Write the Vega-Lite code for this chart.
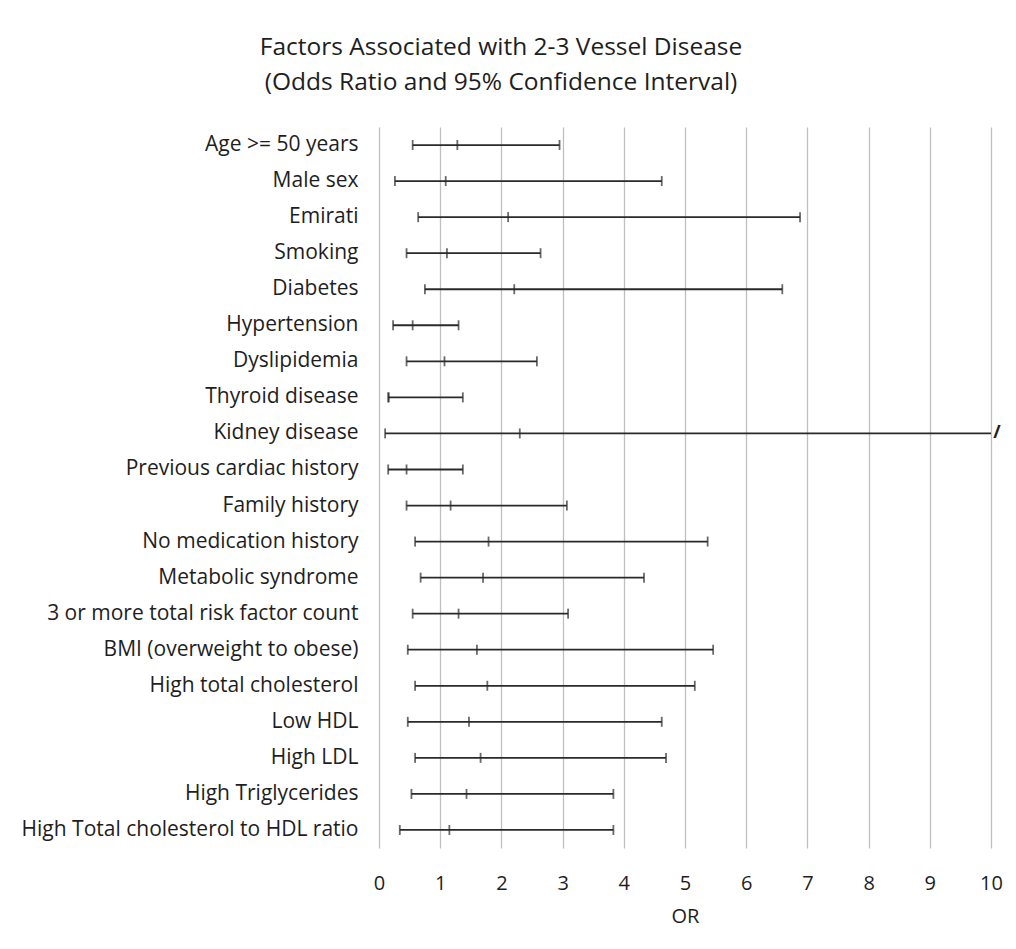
{
  "$schema": "https://vega.github.io/schema/vega-lite/v6.json",
  "autosize": {"type": "none"},
  "padding": {"left": 379, "top": 127, "right": 25, "bottom": 101},
  "width": 612,
  "height": 721,
  "background": "white",
  "title": {
    "text": ["Factors Associated with 2-3 Vessel Disease", "(Odds Ratio and 95% Confidence Interval)"],
    "anchor": "middle",
    "dx": -184,
    "offset": 32,
    "font": "Open Sans",
    "fontSize": 24.5,
    "fontWeight": "normal",
    "lineHeight": 35,
    "color": "#1e1e1e"
  },
  "config": {
    "view": {"stroke": null},
    "font": "Open Sans",
    "axisX": {
      "labelFontSize": 20,
      "titleFontSize": 20,
      "labelFont": "Open Sans",
      "titleFont": "Open Sans",
      "labelColor": "#1e1e1e",
      "titleColor": "#1e1e1e",
      "titleFontWeight": "normal",
      "labelPadding": 25,
      "titlePadding": 13,
      "labelFlush": false,
      "domain": false,
      "ticks": false,
      "grid": true,
      "gridColor": "#bfbfbf",
      "gridWidth": 1.3
    }
  },
  "data": {
    "values": [
      {"factor": "Age >= 50 years", "lo": 0.55, "or": 1.28, "hi": 2.95, "truncated": false},
      {"factor": "Male sex", "lo": 0.26, "or": 1.09, "hi": 4.62, "truncated": false},
      {"factor": "Emirati", "lo": 0.64, "or": 2.11, "hi": 6.88, "truncated": false},
      {"factor": "Smoking", "lo": 0.45, "or": 1.11, "hi": 2.64, "truncated": false},
      {"factor": "Diabetes", "lo": 0.75, "or": 2.21, "hi": 6.59, "truncated": false},
      {"factor": "Hypertension", "lo": 0.23, "or": 0.55, "hi": 1.30, "truncated": false},
      {"factor": "Dyslipidemia", "lo": 0.45, "or": 1.07, "hi": 2.58, "truncated": false},
      {"factor": "Thyroid disease", "lo": 0.15, "or": 0.16, "hi": 1.37, "truncated": false},
      {"factor": "Kidney disease", "lo": 0.10, "or": 2.30, "hi": 10, "truncated": true},
      {"factor": "Previous cardiac history", "lo": 0.15, "or": 0.45, "hi": 1.37, "truncated": false},
      {"factor": "Family history", "lo": 0.45, "or": 1.17, "hi": 3.07, "truncated": false},
      {"factor": "No medication history", "lo": 0.59, "or": 1.79, "hi": 5.37, "truncated": false},
      {"factor": "Metabolic syndrome", "lo": 0.68, "or": 1.70, "hi": 4.33, "truncated": false},
      {"factor": "3 or more total risk factor count", "lo": 0.55, "or": 1.30, "hi": 3.09, "truncated": false},
      {"factor": "BMI (overweight to obese)", "lo": 0.47, "or": 1.60, "hi": 5.46, "truncated": false},
      {"factor": "High total cholesterol", "lo": 0.59, "or": 1.77, "hi": 5.16, "truncated": false},
      {"factor": "Low HDL", "lo": 0.47, "or": 1.47, "hi": 4.62, "truncated": false},
      {"factor": "High LDL", "lo": 0.59, "or": 1.66, "hi": 4.69, "truncated": false},
      {"factor": "High Triglycerides", "lo": 0.53, "or": 1.43, "hi": 3.83, "truncated": false},
      {"factor": "High Total cholesterol to HDL ratio", "lo": 0.34, "or": 1.15, "hi": 3.83, "truncated": false}
    ]
  },
  "encoding": {
    "y": {
      "field": "factor",
      "type": "nominal",
      "sort": null,
      "scale": {"paddingInner": 0, "paddingOuter": 0},
      "axis": {
        "title": null,
        "domain": false,
        "ticks": false,
        "grid": false,
        "labelPadding": 21,
        "labelFontSize": 21,
        "labelColor": "#1e1e1e",
        "labelFont": "Open Sans",
        "labelLimit": 400
      }
    }
  },
  "layer": [
    {
      "mark": {"type": "rule", "color": "#2a2a2a", "strokeWidth": 1.8},
      "encoding": {
        "x": {
          "field": "lo",
          "type": "quantitative",
          "scale": {"domain": [0, 10], "nice": false},
          "axis": {
            "title": "OR",
            "values": [0, 1, 2, 3, 4, 5, 6, 7, 8, 9, 10],
            "format": "d",
            "labelOverlap": false
          }
        },
        "x2": {"field": "hi"}
      }
    },
    {
      "mark": {"type": "tick", "color": "#2a2a2a", "thickness": 1.8, "size": 10},
      "encoding": {"x": {"field": "lo", "type": "quantitative"}}
    },
    {
      "mark": {"type": "tick", "color": "#2a2a2a", "thickness": 1.8, "size": 10},
      "transform": [{"filter": "!datum.truncated"}],
      "encoding": {"x": {"field": "hi", "type": "quantitative"}}
    },
    {
      "mark": {"type": "tick", "color": "#2a2a2a", "thickness": 1.8, "size": 10},
      "encoding": {"x": {"field": "or", "type": "quantitative"}}
    },
    {
      "mark": {"type": "text", "text": "/", "dx": 6, "fontSize": 18, "fontWeight": "bold", "color": "#1e1e1e", "align": "center", "baseline": "middle"},
      "transform": [{"filter": "datum.truncated"}],
      "encoding": {"x": {"field": "hi", "type": "quantitative"}}
    }
  ]
}
